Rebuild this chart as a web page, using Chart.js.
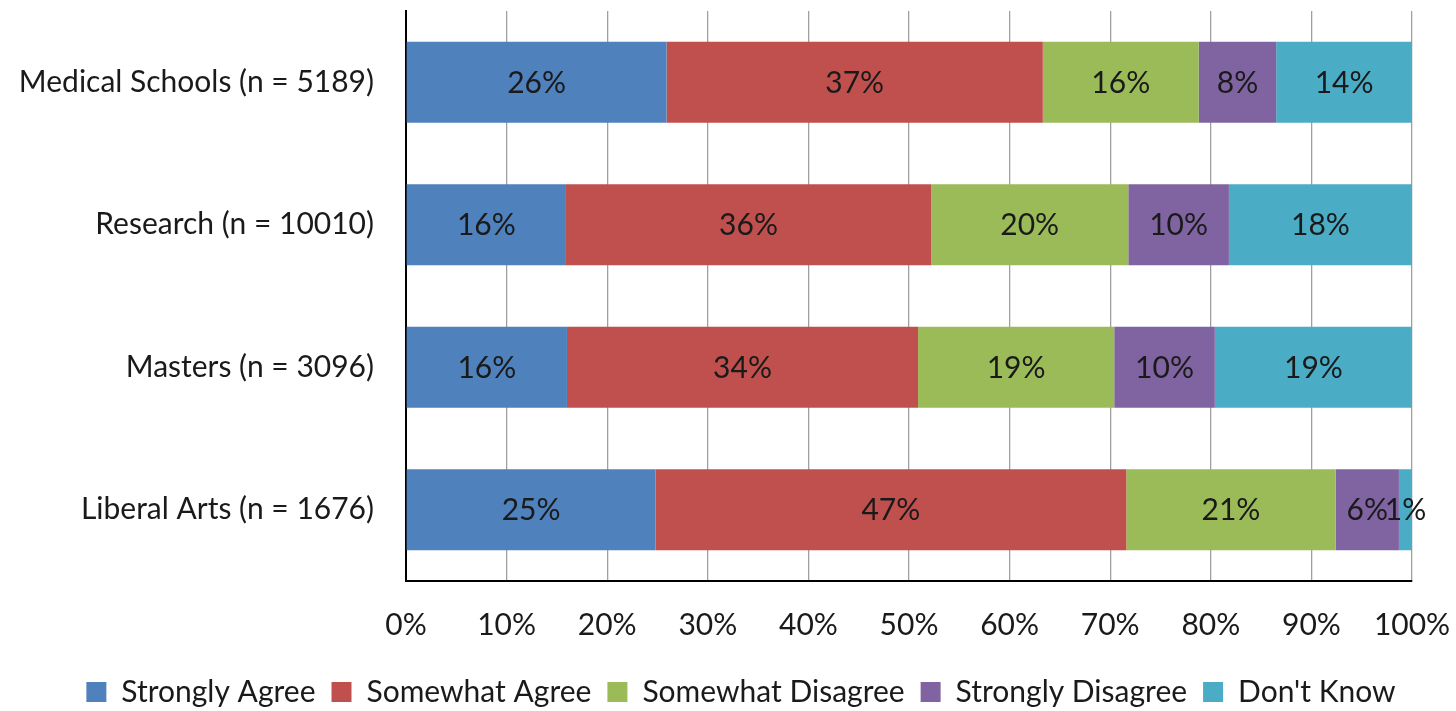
<!DOCTYPE html>
<html>
<head>
<meta charset="utf-8">
<script src="https://cdn.jsdelivr.net/npm/chart.js@4.4.1/dist/chart.umd.min.js"></script>
<style>
  html, body { margin: 0; padding: 0; background: #fff; }
  #wrap { width: 1456px; height: 711px; }
</style>
</head>
<body>
<div id="wrap"><canvas id="chart" width="1456" height="711"></canvas></div>
<script>
// ---- data ----
const categories = [
  'Medical Schools (n = 5189)',
  'Research (n = 10010)',
  'Masters (n = 3096)',
  'Liberal Arts (n = 1676)'
];
const seriesNames = ['Strongly Agree', 'Somewhat Agree', 'Somewhat Disagree', 'Strongly Disagree', "Don't Know"];

// share of each row (%)
const stronglyAgree    = [25.9, 15.9, 16.0, 24.8];
const somewhatAgree    = [37.4, 36.3, 34.9, 46.8];
const somewhatDisagree = [15.5, 19.6, 19.5, 20.8];
const stronglyDisagree = [7.7, 10.0, 10.0, 6.3];
const dontKnow         = [13.5, 18.2, 19.6, 1.3];

// percentages printed on the bars
const stronglyAgreeLbl    = [26, 16, 16, 25];
const somewhatAgreeLbl    = [37, 36, 34, 47];
const somewhatDisagreeLbl = [16, 20, 19, 21];
const stronglyDisagreeLbl = [8, 10, 10, 6];
const dontKnowLbl         = [14, 18, 19, 1];

const xTickValues = [0, 10, 20, 30, 40, 50, 60, 70, 80, 90, 100];

const colors = ['#4F81BD', '#C0504D', '#9BBB59', '#8064A2', '#4BACC6'];
const FONT = "Lato, 'Liberation Sans', sans-serif";
const FS = 30;
const PAD_LEFT = 70;

const series = [stronglyAgree, somewhatAgree, somewhatDisagree, stronglyDisagree, dontKnow];
const seriesLbl = [stronglyAgreeLbl, somewhatAgreeLbl, somewhatDisagreeLbl, stronglyDisagreeLbl, dontKnowLbl];

const datasets = series.map((vals, k) => ({
  label: seriesNames[k],
  data: vals,
  shown: seriesLbl[k],
  backgroundColor: colors[k],
  borderWidth: 0,
  categoryPercentage: 1,
  barPercentage: 0.57
}));

// labels inside the bars
const barLabels = {
  id: 'barLabels',
  afterDatasetsDraw(chart) {
    const ctx = chart.ctx;
    ctx.save();
    ctx.font = FS + 'px ' + FONT;
    ctx.fillStyle = '#1a1a1a';
    ctx.textAlign = 'center';
    ctx.textBaseline = 'middle';
    chart.data.datasets.forEach((ds, di) => {
      chart.getDatasetMeta(di).data.forEach((el, i) => {
        const p = el.getProps(['x', 'y', 'base'], true);
        ctx.fillText(ds.shown[i] + '%', (p.x + p.base) / 2, p.y + 1);
      });
    });
    ctx.restore();
  }
};

// left padding is only there to centre the legend; let the y labels use it
const freeLeft = {
  id: 'freeLeft',
  afterLayout(chart) { chart.scales.y.left = 0; }
};

new Chart(document.getElementById('chart'), {
  type: 'bar',
  data: { labels: categories, datasets: datasets },
  plugins: [barLabels, freeLeft],
  options: {
    indexAxis: 'y',
    responsive: false,
    animation: false,
    layout: { padding: { top: 11, right: 44, bottom: 0, left: PAD_LEFT } },
    plugins: {
      tooltip: { enabled: false },
      legend: {
        position: 'bottom',
        maxHeight: 50,
        labels: {
          font: { family: FONT, size: FS },
          color: '#1a1a1a',
          boxWidth: 20,
          boxHeight: 20,
          padding: 16
        }
      }
    },
    scales: {
      x: {
        stacked: true,
        min: 0,
        max: 100,
        afterBuildTicks: s => { s.ticks = xTickValues.map(v => ({ value: v })); },
        afterFit: s => {
          s.height = 80;
          s.paddingLeft = 0; s.paddingRight = 0; s.paddingTop = 0; s.paddingBottom = 0;
        },
        ticks: {
          callback: v => v + '%',
          font: { family: FONT, size: FS },
          color: '#1a1a1a',
          padding: 26,
          maxRotation: 0
        },
        grid: { color: '#a0a0a0', lineWidth: 1.3, drawTicks: false },
        border: { color: '#000', width: 2 }
      },
      y: {
        stacked: true,
        afterFit: s => {
          s.width = 406 - PAD_LEFT;
          s.paddingLeft = 0; s.paddingRight = 0; s.paddingTop = 0; s.paddingBottom = 0;
        },
        ticks: {
          font: { family: FONT, size: FS },
          color: '#1a1a1a',
          padding: 32
        },
        grid: { display: false, drawTicks: false },
        border: { color: '#000', width: 2 }
      }
    }
  }
});
</script>
</body>
</html>
